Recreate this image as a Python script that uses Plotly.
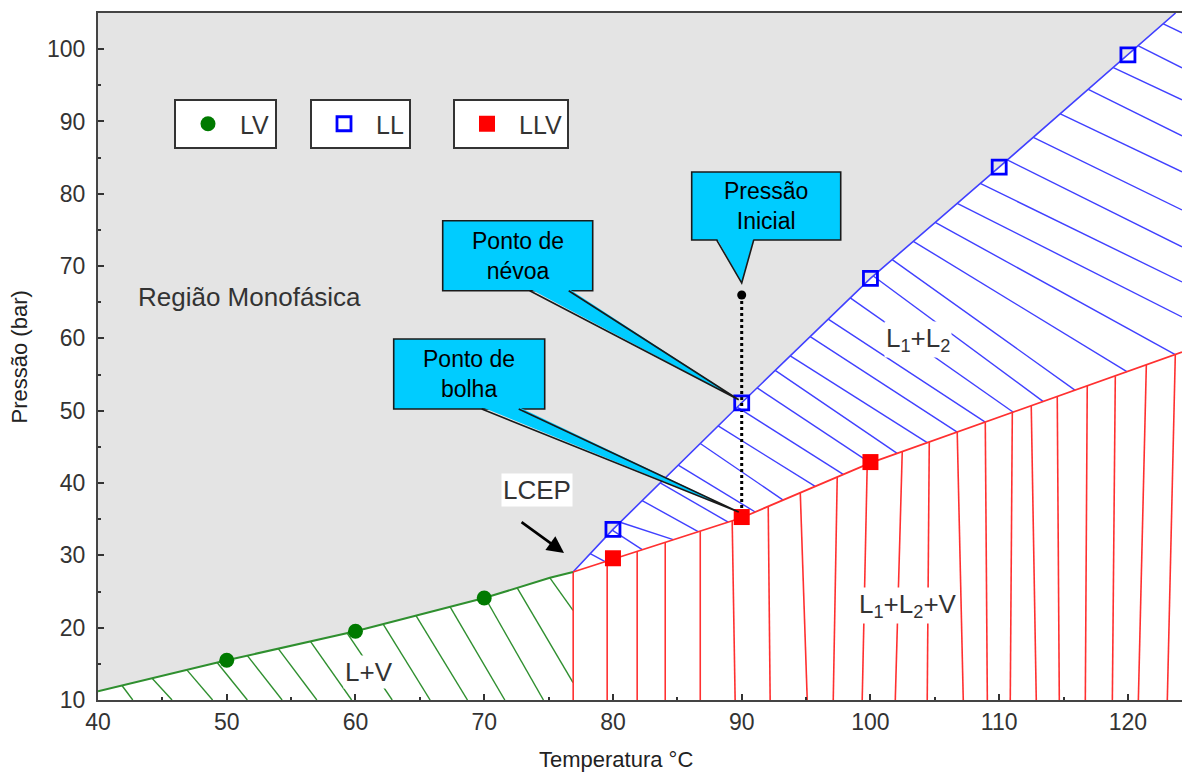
import plotly.graph_objects as go
import numpy as np

# ---------------- data (Temperature °C, Pressure bar) ----------------
# phase boundaries
lv_T = [40, 50, 60, 70, 75.1, 76.9]
lv_P = [11.2, 15.5, 19.5, 24.1, 26.9, 27.7]
ll_T = [76.9, 80, 90, 100, 110, 120, 123.7]
ll_P = [27.7, 33.6, 51.1, 68.3, 83.7, 99.2, 105.0]
llv_T = [76.9, 80, 90, 100, 110, 120, 124.2]
llv_P = [27.7, 29.5, 35.2, 42.8, 49.1, 55.4, 58.1]

# experimental points
lv_pts_T = [50, 60, 70]
lv_pts_P = [15.5, 19.5, 24.1]
ll_pts_T = [80, 90, 100, 110, 120]
ll_pts_P = [33.6, 51.1, 68.3, 83.7, 99.2]
llv_pts_T = [80, 90, 100]
llv_pts_P = [29.6, 35.3, 42.9]
init_T = [90]
init_P = [66.0]

# tie lines, L+V region (top on LV curve)
green_top_T = [41.86, 44.2, 46.9, 49.25, 51.6, 54.0, 56.5, 59.35, 62.15, 64.7, 67.35, 70.07, 72.56, 75.1]
green_bot_T = [42.7, 45.75, 48.9, 51.6, 54.3, 57.0, 59.7, 62.85, 65.8, 68.7, 71.6, 74.6, 76.9, 76.9]
green_bot_P = [10, 10, 10, 10, 10, 10, 10, 10, 10, 10, 10, 10, 12.4, 22.4]

# tie lines, L1+L2 region (start on LL curve, end on LLV curve)
blue_start_T = [78.23, 79.94, 80.56, 82.27, 83.67, 85.07, 86.78, 88.17, 89.65, 91.20,
                92.60, 93.77, 95.32, 96.72, 98.43, 100.22, 101.69, 103.33, 105.03]
blue_end_T = [79.39, 82.27, 84.68, 86.62, 88.95, 91.05, 93.22, 95.71, 97.89, 99.98,
              102.08, 104.41, 106.74, 108.92, 111.10, 113.43, 115.91, 119.95, 123.68]
# tie lines, L1+L2 region leaving through the right edge
blue_edge_start_T = [106.74, 108.53, 110.63, 112.65, 114.75, 116.92, 118.87, 120.81, 122.75]
blue_edge_end_P = [62.97, 67.81, 72.66, 77.77, 83.03, 88.01, 92.99, 97.41, 102.25]

# tie lines, L1+L2+V region (top on LLV curve, down to 10 bar)
red_top_T = [76.91, 79.55, 81.88, 84.06, 86.78, 89.26, 92.06, 94.55, 97.42, 99.75, 102.47,
             104.57, 106.74, 108.92, 111.02, 112.49, 114.51, 116.84, 119.02, 121.43, 123.68]
red_bot_T = [76.91, 79.55, 81.88, 84.06, 86.78, 89.49, 92.21, 95.09, 97.11, 99.36, 101.93,
             104.41, 107.21, 109.08, 110.86, 112.88, 114.67, 116.69, 118.79, 120.81, 123.06]

x_range = [40, 124.2]
y_range = [10, 105]
x_ticks = [40, 50, 60, 70, 80, 90, 100, 110, 120]
y_ticks = [10, 20, 30, 40, 50, 60, 70, 80, 90, 100]

# ---------------- styles ----------------
GREEN = "#2f8f2f"
BLUE = "#4040ff"
RED = "#ff3030"
FONT = "Liberation Sans, Arial, sans-serif"
TXT = "#333333"


def seg_xy(x0s, y0s, x1s, y1s):
    xs, ys = [], []
    for a, b, c, d in zip(x0s, y0s, x1s, y1s):
        xs += [a, c, None]
        ys += [b, d, None]
    return xs, ys


fig = go.Figure()

# white (two-phase / three-phase) region under the LV + LL envelope
env_T = lv_T + ll_T[1:] + [x_range[1], x_range[1], x_range[0]]
env_P = lv_P + ll_P[1:] + [y_range[1], y_range[0], y_range[0]]
fig.add_trace(go.Scatter(x=env_T, y=env_P, fill="toself", fillcolor="white",
                         mode="none", showlegend=False, hoverinfo="skip"))

# green hatch
g_top_P = list(np.interp(green_top_T, lv_T, lv_P))
gx, gy = seg_xy(green_top_T, g_top_P, green_bot_T, green_bot_P)
fig.add_trace(go.Scatter(x=gx, y=gy, mode="lines", line=dict(color=GREEN, width=1.4),
                         showlegend=False, hoverinfo="skip"))

# blue hatch
b_start_P = list(np.interp(blue_start_T, ll_T, ll_P))
b_end_P = list(np.interp(blue_end_T, llv_T, llv_P))
bx, by = seg_xy(blue_start_T, b_start_P, blue_end_T, b_end_P)
be_start_P = list(np.interp(blue_edge_start_T, ll_T, ll_P))
bx2, by2 = seg_xy(blue_edge_start_T, be_start_P, [x_range[1]] * len(blue_edge_start_T), blue_edge_end_P)
fig.add_trace(go.Scatter(x=bx + bx2, y=by + by2, mode="lines", line=dict(color=BLUE, width=1.4),
                         showlegend=False, hoverinfo="skip"))

# red hatch
r_top_P = list(np.interp(red_top_T, llv_T, llv_P))
rx, ry = seg_xy(red_top_T, r_top_P, red_bot_T, [y_range[0]] * len(red_bot_T))
fig.add_trace(go.Scatter(x=rx, y=ry, mode="lines", line=dict(color=RED, width=1.6),
                         showlegend=False, hoverinfo="skip"))

# boundary curves
fig.add_trace(go.Scatter(x=lv_T, y=lv_P, mode="lines", line=dict(color=GREEN, width=2),
                         showlegend=False, hoverinfo="skip"))
fig.add_trace(go.Scatter(x=ll_T, y=ll_P, mode="lines", line=dict(color=BLUE, width=1.6),
                         showlegend=False, hoverinfo="skip"))
fig.add_trace(go.Scatter(x=llv_T, y=llv_P, mode="lines", line=dict(color=RED, width=1.8),
                         showlegend=False, hoverinfo="skip"))

# isothermal depressurisation path
fig.add_trace(go.Scatter(x=[init_T[0], llv_pts_T[1]], y=[init_P[0], llv_pts_P[1]], mode="lines",
                         line=dict(color="black", width=3, dash="dot"),
                         showlegend=False, hoverinfo="skip"))
fig.add_trace(go.Scatter(x=init_T, y=init_P, mode="markers",
                         marker=dict(color="black", size=9), showlegend=False))

# experimental points (each in its own legend box)
fig.add_trace(go.Scatter(x=lv_pts_T, y=lv_pts_P, mode="markers", name="LV",
                         marker=dict(symbol="circle", color="#007a00", size=15),
                         legend="legend"))
fig.add_trace(go.Scatter(x=ll_pts_T, y=ll_pts_P, mode="markers", name="LL",
                         marker=dict(symbol="square-open", color="#0000ff", size=14,
                                     line=dict(width=2.8, color="#0000ff")),
                         legend="legend2"))
fig.add_trace(go.Scatter(x=llv_pts_T, y=llv_pts_P, mode="markers", name="LLV",
                         marker=dict(symbol="square", color="#ff0000", size=16),
                         legend="legend3"))

# ---------------- callouts ----------------
CY = "#00ccff"
EDGE = "#1a1a1a"
callouts = [
    # text, anchor T, anchor P, box (x0,x1,y0,y1) px, tail base (xa,xb,y) px, tip (x,y) px
    ("Ponto de<br>névoa", ll_pts_T[1], ll_pts_P[1], (-299, -149, 112, 182), (-212, -173, 112), (-3, 3)),
    ("Pressão<br>Inicial", init_T[0], init_P[0], (-50, 99, 55, 123), (-25, 12, 55), (0, 12)),
    ("Ponto de<br>bolha", llv_pts_T[1], llv_pts_P[1], (-348, -197, 108, 178), (-260, -223, 108), (-3, 5)),
]
shapes = []
annotations = []
for text, ax_, ay_, box, base, tip in callouts:
    common = dict(xref="x", yref="y", xsizemode="pixel", ysizemode="pixel",
                  xanchor=ax_, yanchor=ay_, layer="above")
    shapes.append(dict(type="rect", x0=box[0], x1=box[1], y0=box[2], y1=box[3],
                       fillcolor=CY, line=dict(color=EDGE, width=1.6), **common))
    shapes.append(dict(type="path",
                       path=f"M{base[0]},{base[2] + 2} L{tip[0]},{tip[1]} L{base[1]},{base[2] + 2} Z",
                       fillcolor=CY, line=dict(width=0), **common))
    shapes.append(dict(type="path",
                       path=f"M{base[0]},{base[2]} L{tip[0]},{tip[1]} L{base[1]},{base[2]}",
                       fillcolor="rgba(0,0,0,0)", line=dict(color=EDGE, width=1.6), **common))
    annotations.append(dict(x=ax_, y=ay_, xref="x", yref="y", text=text, showarrow=False,
                            xshift=(box[0] + box[1]) / 2, yshift=(box[2] + box[3]) / 2,
                            font=dict(family=FONT, size=23, color="black"), align="center"))

# region labels
def label(t, x, y, size=26, bg="white"):
    annotations.append(dict(x=x, y=y, xref="x", yref="y", text=t, showarrow=False,
                            font=dict(family=FONT, size=size, color=TXT),
                            bgcolor=bg, borderpad=1))

label("Região Monofásica", 51.8, 65.7, size=26, bg="rgba(0,0,0,0)")
label("L+V", 61.06, 13.9)
label("L<sub>1</sub>+L<sub>2</sub>", 103.7, 59.8)
label("L<sub>1</sub>+L<sub>2</sub>+V", 102.9, 23.1)
label("LCEP", 74.1, 39.0)

# LCEP arrow
annotations.append(dict(x=lv_T[-1], y=lv_P[-1], xref="x", yref="y", text="", showarrow=True,
                        xshift=-9, yshift=19, ax=-44, ay=-32, arrowhead=2, arrowsize=1.3,
                        arrowwidth=2.6, arrowcolor="black"))

# axis titles
annotations.append(dict(x=-0.072, y=0.5, xref="paper", yref="paper", text="Pressão (bar)",
                        textangle=-90, showarrow=False, xanchor="center", yanchor="middle",
                        font=dict(family=FONT, size=22, color="#222")))
annotations.append(dict(x=(616 - 98) / 1084, y=-0.066, xref="paper", yref="paper",
                        text="Temperatura °C", showarrow=False, xanchor="center", yanchor="top",
                        font=dict(family=FONT, size=22, color="#222")))

axis_common = dict(showgrid=False, zeroline=False, showline=True, linecolor="#444",
                   linewidth=2, ticks="inside", ticklen=6, tickwidth=1.5, tickcolor="#333",
                   tickfont=dict(family=FONT, size=23, color=TXT),
                   minor=dict(ticks="inside", ticklen=3, tickwidth=1.5, tickcolor="#333",
                              showgrid=False, dtick=5))

legend_common = dict(bgcolor="white", bordercolor="#333", borderwidth=2,
                     font=dict(family=FONT, size=25, color=TXT), xanchor="left",
                     yanchor="top", itemwidth=54, itemclick=False)

fig.update_layout(
    width=1182, height=773,
    margin=dict(l=98, r=0, t=13, b=73),
    paper_bgcolor="white",
    plot_bgcolor="#e4e4e4",
    xaxis=dict(range=x_range, tickvals=x_ticks, mirror=True, **axis_common),
    yaxis=dict(range=y_range, tickvals=y_ticks, mirror=False, ticklabelstandoff=6, **axis_common),
    shapes=shapes,
    annotations=annotations,
    legend=dict(x=(174 - 98) / 1084, y=1 - (99 - 13) / 687, **legend_common),
    legend2=dict(x=(310 - 98) / 1084, y=1 - (99 - 13) / 687, **legend_common),
    legend3=dict(x=(453 - 98) / 1084, y=1 - (99 - 13) / 687, **legend_common),
    showlegend=True,
)

fig.write_html("out.html")
